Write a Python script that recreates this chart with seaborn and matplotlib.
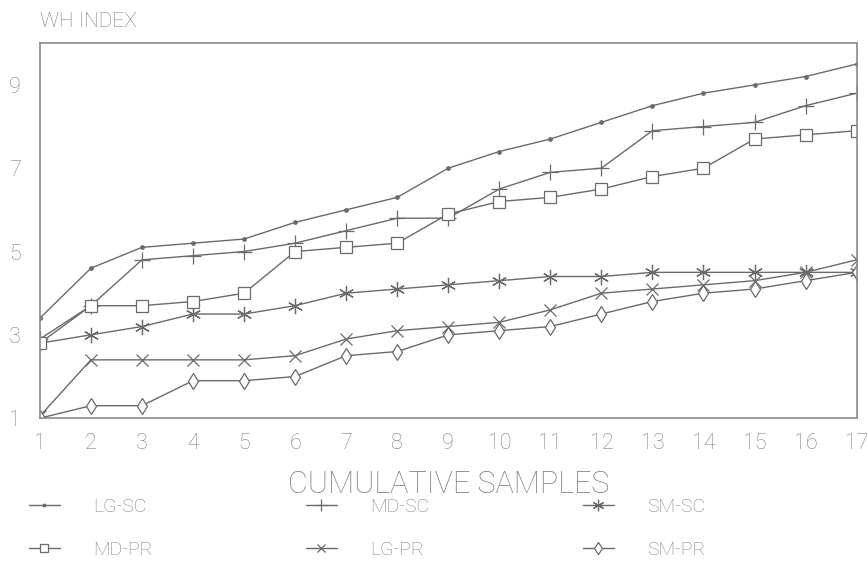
import matplotlib
matplotlib.use("Agg")
import matplotlib.pyplot as plt
import pandas as pd
import seaborn as sns

# data
samples = list(range(1, 18))
lg_sc = [3.4, 4.6, 5.1, 5.2, 5.3, 5.7, 6.0, 6.3, 7.0, 7.4, 7.7, 8.1, 8.5, 8.8, 9.0, 9.2, 9.5]
md_sc = [2.9, 3.7, 4.8, 4.9, 5.0, 5.2, 5.5, 5.8, 5.8, 6.5, 6.9, 7.0, 7.9, 8.0, 8.1, 8.5, 8.8]
sm_sc = [2.8, 3.0, 3.2, 3.5, 3.5, 3.7, 4.0, 4.1, 4.2, 4.3, 4.4, 4.4, 4.5, 4.5, 4.5, 4.5, 4.5]
md_pr = [2.8, 3.7, 3.7, 3.8, 4.0, 5.0, 5.1, 5.2, 5.9, 6.2, 6.3, 6.5, 6.8, 7.0, 7.7, 7.8, 7.9]
lg_pr = [1.05, 2.4, 2.4, 2.4, 2.4, 2.5, 2.9, 3.1, 3.2, 3.3, 3.6, 4.0, 4.1, 4.2, 4.3, 4.5, 4.8]
sm_pr = [1.0, 1.3, 1.3, 1.9, 1.9, 2.0, 2.5, 2.6, 3.0, 3.1, 3.2, 3.5, 3.8, 4.0, 4.1, 4.3, 4.5]

series = {"LG-SC": lg_sc, "MD-SC": md_sc, "SM-SC": sm_sc,
          "MD-PR": md_pr, "LG-PR": lg_pr, "SM-PR": sm_pr}

df = pd.DataFrame(series)
df["Sample"] = samples
df_long = df.melt(id_vars="Sample", var_name="Series", value_name="WH")

sns.set_style("white")
plt.rcParams["font.family"] = ["Roboto", "DejaVu Sans"]

ink = "#6a6a6a"
axis_col = "#8a8a8a"
text_col = "#808080"

# marker style per series: (marker, size, facecolor)
styles = {
    "LG-SC": (".", 5, ink),
    "MD-SC": ("+", 12, "none"),
    "SM-SC": ((6, 2, 0), 11, "none"),
    "MD-PR": ("s", 8, "white"),
    "LG-PR": ("x", 8, "none"),
    "SM-PR": ("d", 8.5, "white"),
}

fig = plt.figure(figsize=(8.67, 5.76), dpi=100)
ax = fig.add_axes([0.046, 0.274, 0.942, 0.651])

for name in series:
    m, ms, fc = styles[name]
    sns.lineplot(data=df_long[df_long["Series"] == name], x="Sample", y="WH",
                 ax=ax, color=ink, linewidth=1.0, marker=m, markersize=ms,
                 markerfacecolor=fc, markeredgecolor=ink, markeredgewidth=0.9,
                 label=name, legend=False)

ax.set_xlim(1, 17)
ax.set_ylim(1, 10)
ax.set_xticks(samples)
ax.set_yticks([1, 3, 5, 7, 9])
ax.tick_params(axis="both", direction="out", length=9, width=1, color=axis_col,
               labelcolor=text_col, labelsize=15.5)
ax.tick_params(axis="x", pad=2)
ax.tick_params(axis="y", pad=5)
for sp in ax.spines.values():
    sp.set_color(axis_col)
    sp.set_linewidth(1.2)
    sp.set_visible(True)
for t in ax.get_xticklabels() + ax.get_yticklabels():
    t.set_fontweight("light")

ax.set_xlabel("CUMULATIVE SAMPLES", fontsize=22, color=text_col, labelpad=11,
              fontweight="light")
ax.set_ylabel("")
fig.text(0.046, 0.962, "WH INDEX", fontsize=15, color=text_col,
         ha="left", va="center", fontweight="light")

handles, labels = ax.get_legend_handles_labels()
order = ["LG-SC", "MD-PR", "MD-SC", "LG-PR", "SM-SC", "SM-PR"]
hmap = dict(zip(labels, handles))
leg = fig.legend([hmap[k] for k in order], order, ncol=3, loc="upper left",
                 bbox_to_anchor=(0.013, 0.166), frameon=False, fontsize=14,
                 handlelength=1.6, handletextpad=1.7, columnspacing=7.9,
                 labelspacing=1.3, markerscale=0.75)
for t in leg.get_texts():
    t.set_color(text_col)
    t.set_fontweight("light")

plt.savefig("out.png", dpi=100)
